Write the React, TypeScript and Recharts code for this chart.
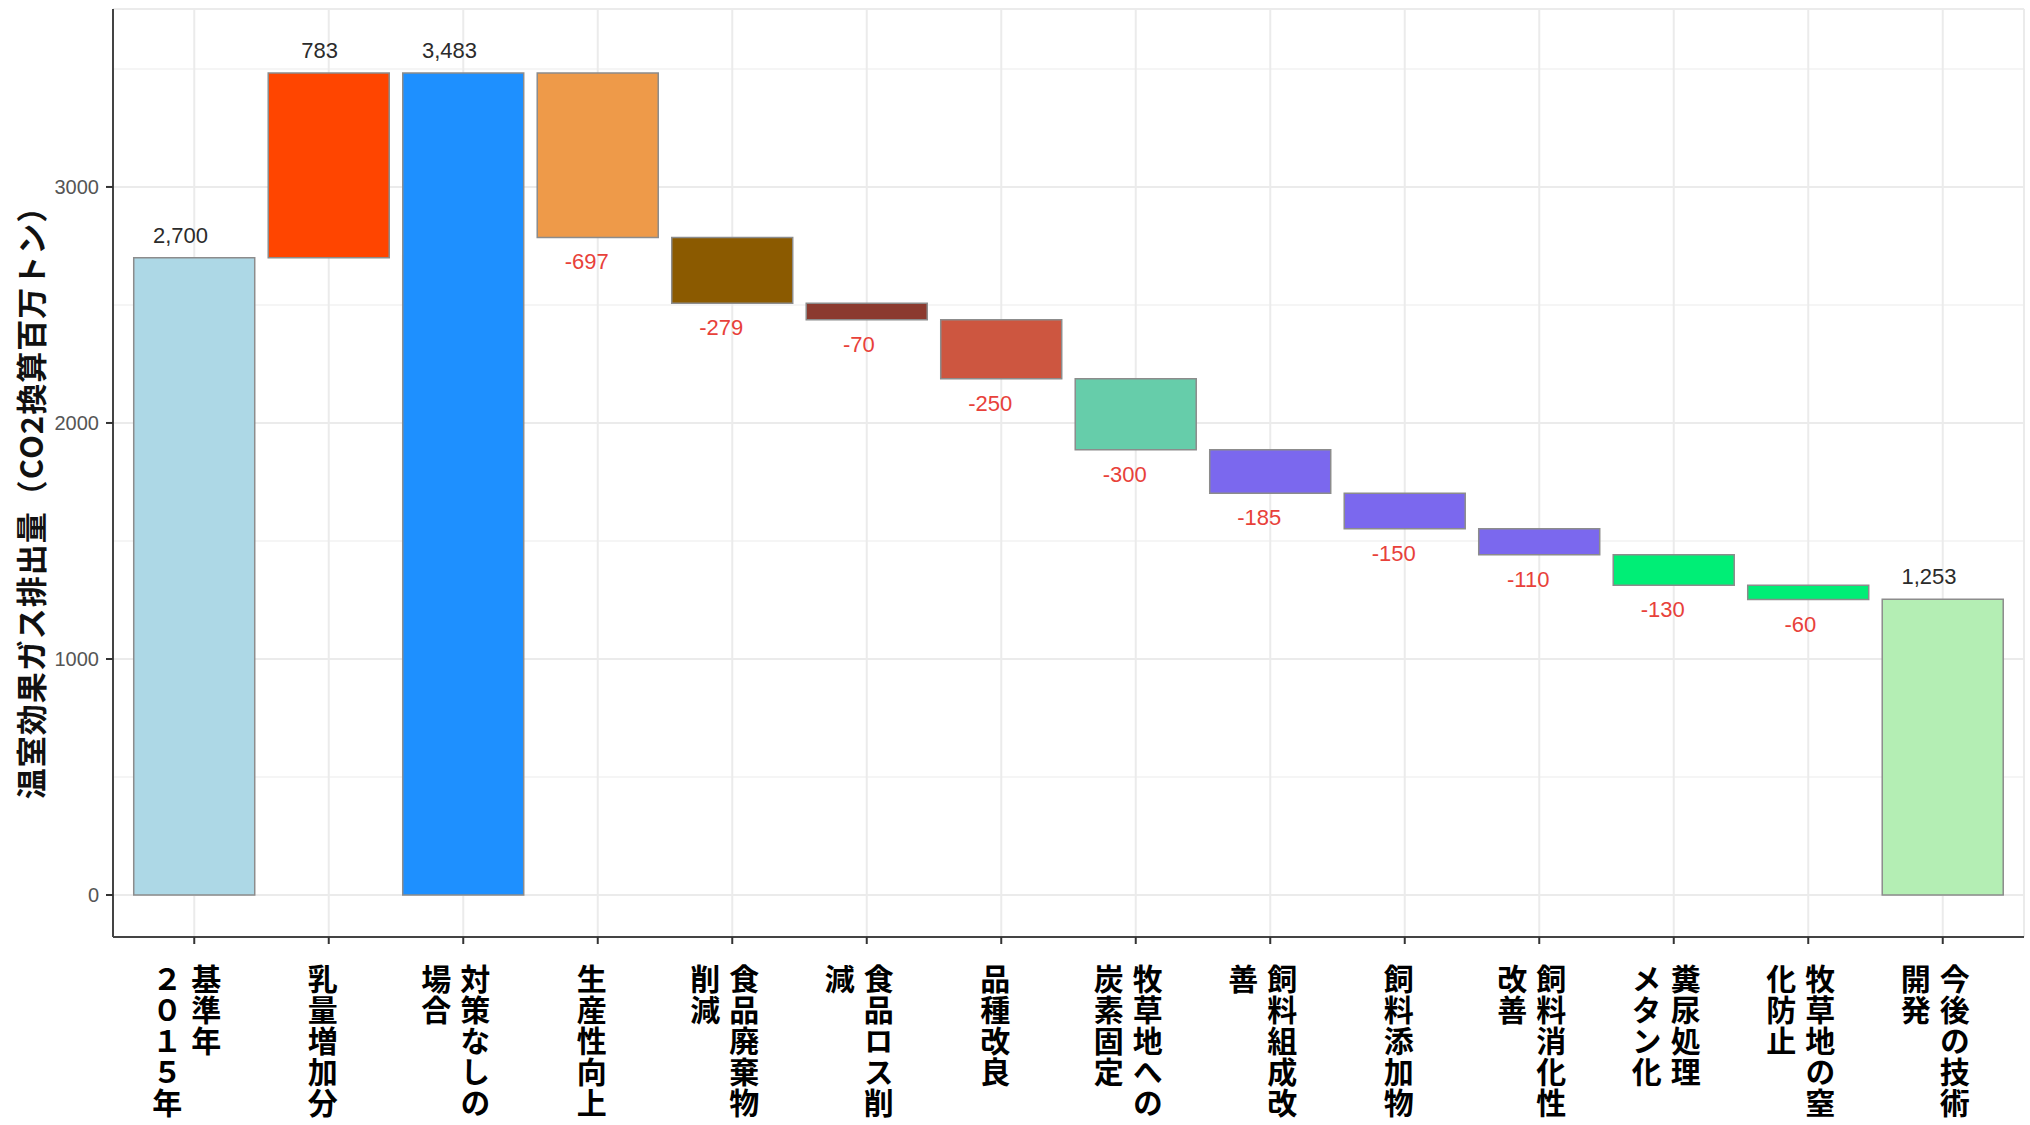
import React from 'react';
import { BarChart, Bar, XAxis, YAxis, CartesianGrid, Cell, LabelList } from 'recharts';

const categories: string[] = [
  '基準年\n２０１５年',
  '乳量増加分',
  '対策なしの\n場合',
  '生産性向上',
  '食品廃棄物\n削減',
  '食品ロス削\n減',
  '品種改良',
  '牧草地への\n炭素固定',
  '飼料組成改\n善',
  '飼料添加物',
  '飼料消化性\n改善',
  '糞尿処理\nメタン化',
  '牧草地の窒\n化防止',
  '今後の技術\n開発',
];
const stepValues: number[] = [2700, 783, 3483, -697, -279, -70, -250, -300, -185, -150, -110, -130, -60, 1253];
const stepKinds: string[] = [
  'total', 'increase', 'total', 'decrease', 'decrease', 'decrease', 'decrease',
  'decrease', 'decrease', 'decrease', 'decrease', 'decrease', 'decrease', 'total',
];
const barColors: string[] = [
  '#ADD8E6', '#FF4500', '#1E90FF', '#EE9A49', '#8B5A00', '#8B3A2F', '#CD5640',
  '#66CDAA', '#7B68EE', '#7B68EE', '#7B68EE', '#00EE76', '#00EE76', '#B4EEB4',
];
const yTicks: number[] = [0, 1000, 2000, 3000];
const yMinorTicks: number[] = [500, 1500, 2500, 3500];
const yDomain: [number, number] = [-178, 3754];
const yTitle = '温室効果ガス排出量（CO2換算百万トン）';

type Row = { name: string; base: number; height: number; label: string };

const buildData = (): Row[] => {
  let level = 0;
  return categories.map((name, i) => {
    const v = stepValues[i];
    const kind = stepKinds[i];
    let base = 0;
    let height = 0;
    if (kind === 'total') {
      base = 0;
      height = v;
      level = v;
    } else if (kind === 'increase') {
      base = level;
      height = v;
      level += v;
    } else {
      level += v;
      base = level;
      height = -v;
    }
    const label = v < 0 ? String(v) : v.toLocaleString('en-US');
    return { name, base, height, label };
  });
};

const data = buildData();

const LABEL_FONT = "'Liberation Sans', Arial, Helvetica, sans-serif";
const CJK_FONT = "'Noto Sans CJK JP', 'Noto Sans CJK SC', sans-serif";

const estimateWidth = (s: string, fs: number) => {
  let w = 0;
  for (const ch of s) {
    if (ch === ',') w += 0.278 * fs;
    else if (ch === '-') w += 0.333 * fs;
    else w += 0.556 * fs;
  }
  return w;
};

const renderValueLabel = (props: any) => {
  const vb = props.viewBox || props;
  const x = Number(vb.x ?? props.x);
  const y = Number(vb.y ?? props.y);
  const width = Number(vb.width ?? props.width);
  const height = Number(vb.height ?? props.height);
  const text = String(props.value);
  const fs = 22;
  const top = Math.min(y, y + height);
  const bottom = Math.max(y, y + height);
  const cx = x + width / 2 - 0.25 * estimateWidth(text, fs);
  const neg = text.startsWith('-');
  return (
    <text
      x={cx}
      y={neg ? bottom + 32 : top - 15}
      textAnchor="middle"
      fontSize={fs}
      fontFamily={LABEL_FONT}
      fill={neg ? '#E8413A' : '#2B2B2B'}
    >
      {text}
    </text>
  );
};

const VerticalTick = (props: any) => {
  const { x, y, payload } = props;
  const cols = String(payload.value).split('\n');
  const offsets = cols.length === 1 ? [-6] : [12, -27];
  return (
    <g>
      {cols.map((col, ci) => (
        <text
          key={ci}
          x={x + offsets[ci]}
          y={y + 18}
          textAnchor="start"
          fontSize={30}
          fontWeight={700}
          fontFamily={CJK_FONT}
          fill="#000"
          letterSpacing={1}
          style={{ writingMode: 'vertical-rl' as any }}
        >
          {col}
        </text>
      ))}
    </g>
  );
};

export default function App() {
  return (
    <div style={{ position: 'absolute', left: 0, top: 0, width: 2030, height: 1125, background: '#fff' }}>
      <BarChart
        width={2030}
        height={1125}
        data={data}
        margin={{ top: 9, right: 6, bottom: 0, left: 0 }}
        barCategoryGap="5%"
      >
        <CartesianGrid yAxisId="minor" vertical={false} stroke="#F2F2F2" strokeWidth={1.4} />
        <CartesianGrid stroke="#EBEBEB" strokeWidth={2} />
        <XAxis
          dataKey="name"
          type="category"
          interval={0}
          padding={{ left: 14, right: 14 }}
          height={188}
          tickSize={7}
          tickMargin={2}
          tickLine={{ stroke: '#333', strokeWidth: 2 }}
          axisLine={{ stroke: '#444', strokeWidth: 2 }}
          tick={<VerticalTick />}
        />
        <XAxis
          xAxisId="top"
          dataKey="name"
          orientation="top"
          height={0}
          tick={false}
          tickLine={false}
          axisLine={{ stroke: '#444', strokeWidth: 2 }}
        />
        <YAxis
          type="number"
          domain={yDomain}
          allowDataOverflow
          ticks={yTicks}
          width={113}
          tickSize={7}
          tickMargin={7}
          tickLine={{ stroke: '#333', strokeWidth: 2 }}
          axisLine={{ stroke: '#444', strokeWidth: 2 }}
          tick={{ fill: '#555', fontSize: 20, fontFamily: LABEL_FONT }}
        />
        <YAxis
          yAxisId="minor"
          type="number"
          domain={yDomain}
          allowDataOverflow
          ticks={yMinorTicks}
          hide
        />
        <YAxis
          yAxisId="right"
          orientation="right"
          type="number"
          domain={yDomain}
          allowDataOverflow
          width={0}
          tick={false}
          tickLine={false}
          axisLine={{ stroke: '#444', strokeWidth: 2 }}
        />
        <Bar dataKey="base" stackId="w" fill="transparent" isAnimationActive={false} />
        <Bar dataKey="height" stackId="w" stroke="#8C8C8C" strokeWidth={1.5} isAnimationActive={false}>
          {data.map((d, i) => (
            <Cell key={d.name} fill={barColors[i]} />
          ))}
          <LabelList dataKey="label" content={renderValueLabel} />
        </Bar>
      </BarChart>
      <svg
        width={2030}
        height={1125}
        style={{ position: 'absolute', left: 0, top: 0, pointerEvents: 'none' }}
      >
        <text
          x={29}
          y={495}
          transform="rotate(-90 29 495)"
          textAnchor="middle"
          dominantBaseline="central"
          fontSize={31}
          letterSpacing={1}
          fontWeight={700}
          fontFamily={CJK_FONT}
          fill="#111"
        >
          {yTitle}
        </text>
      </svg>
    </div>
  );
}
